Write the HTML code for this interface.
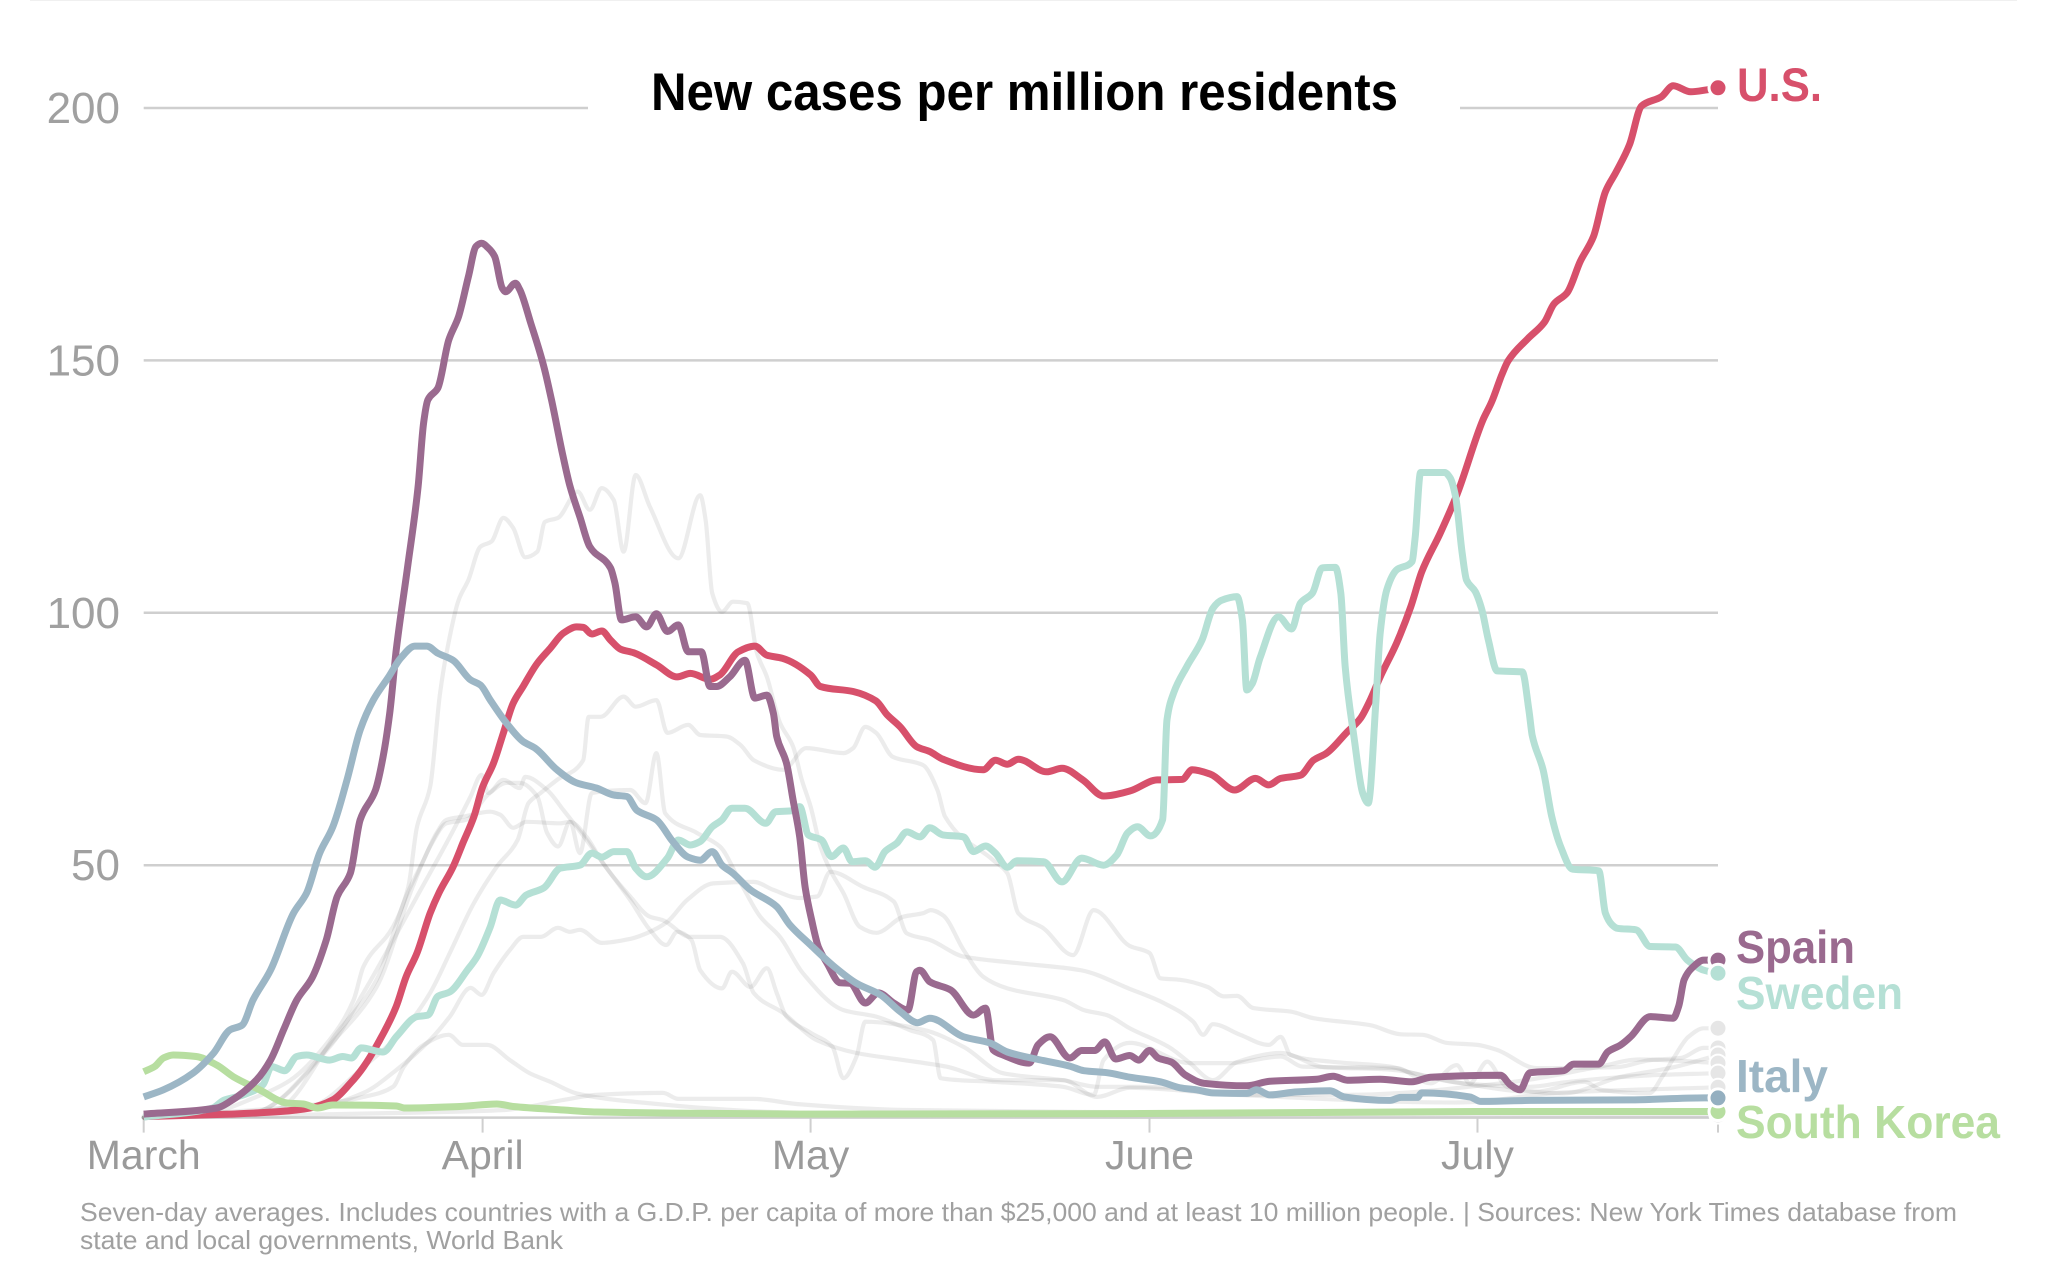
<!DOCTYPE html>
<html lang="en">
<head>
<meta charset="utf-8">
<title>New cases per million residents</title>
<style>
  html, body { margin: 0; padding: 0; background: #fff; }
  svg { display: block; }
  text { font-family: "Liberation Sans", sans-serif; }
</style>
</head>
<body>
<svg id="chart" xmlns="http://www.w3.org/2000/svg" width="2048" height="1280" viewBox="0 0 2048 1280">
  <rect x="0" y="0" width="2048" height="1280" fill="#ffffff"/>
  <rect x="30" y="0" width="1987" height="1" fill="#f0f0f0"/>
  <g id="grid"></g>
  <rect x="588" y="100" width="872" height="16" fill="#ffffff"/>
  <text x="651" y="110" font-size="53" font-weight="700" fill="#000000" textLength="747" lengthAdjust="spacingAndGlyphs">New cases per million residents</text>
  <g id="xaxis"></g>
  <g id="yaxis"></g>
  <g id="lines"></g>
  <g id="dots"></g>
  <text x="1737" y="101" font-size="47" font-weight="700" fill="#d7506b" textLength="85" lengthAdjust="spacingAndGlyphs">U.S.</text>
  <text x="1736" y="963" font-size="46" font-weight="700" fill="#9a6a8f" textLength="119" lengthAdjust="spacingAndGlyphs">Spain</text>
  <text x="1736" y="1009" font-size="46" font-weight="700" fill="#b5e0d5" textLength="167" lengthAdjust="spacingAndGlyphs">Sweden</text>
  <text x="1736" y="1092" font-size="46" font-weight="700" fill="#9cb6c5" textLength="92" lengthAdjust="spacingAndGlyphs">Italy</text>
  <text x="1736" y="1138" font-size="46" font-weight="700" fill="#b7dea0" textLength="264" lengthAdjust="spacingAndGlyphs">South Korea</text>
  <text x="80" y="1221" font-size="26" fill="#a0a0a0" textLength="1877" lengthAdjust="spacingAndGlyphs">Seven-day averages. Includes countries with a G.D.P. per capita of more than $25,000 and at least 10 million people. | Sources: New York Times database from</text>
  <text x="80" y="1249" font-size="26" fill="#a0a0a0" textLength="483" lengthAdjust="spacingAndGlyphs">state and local governments, World Bank</text>
</svg>
<script>
const xTickDays = [0, 31, 61, 92, 122, 144];
const xTickLabels = ['March', 'April', 'May', 'June', 'July', ''];
const yTickValues = [0, 50, 100, 150, 200];
const yTickLabels = ['', '50', '100', '150', '200'];

const usDays = [0,7.9,12.5,15.2,17.3,18.9,20.1,21.6,23.1,24,25,26.2,27,28.3,29.2,30.2,31,32,32.9,33.8,34.7,36,37.2,38.4,39.6,40.2,41,41.9,42.7,43.6,44.8,46.9,48.8,50,51.8,52.7,54.4,55.9,57,58.4,61,61.9,64.9,67,68,69.2,70.7,71.9,73.1,76.8,77.9,79,80,82.6,84,85.9,87.8,90.2,92.7,95,95.9,97.6,99.8,101.7,102.9,104,105.8,107,108.2,110,111.3,112.1,113.1,114.6,115.9,116.9,118.6,120.1,122.5,123.3,124.2,124.8,126.6,128.1,129,130.2,131.4,132.6,133.7,134.7,135.9,137,138.8,139.9,141.5,143,144];
const usValues = [0.2,0.7,1.2,1.9,3.5,6.8,10,15.4,22,27.9,32.6,40.5,44.5,49.7,54.4,59.6,65.5,70.2,76.2,82.1,85.4,90,93,96,97.2,97.1,95.8,96.4,94.6,92.8,92.1,89.7,87.3,88,86.8,87.7,92.3,93.4,91.6,91,87.7,85.4,84.4,82.5,79.8,77.4,73.5,72.5,71,68.9,70.8,70,71,68.5,69.2,66.9,63.7,64.7,66.9,67,68.9,68,64.9,67.2,65.9,67.2,67.8,70.8,72.2,76.2,79.1,82.3,87.3,94,101.2,108.1,115.8,123.3,138.2,141.8,147,149.9,154.3,157.5,161.2,163.4,169.6,174.5,183.4,187.4,192.7,200.4,202.2,204.4,203.2,203.6,204];

const spainDays = [0,6.7,7.9,10.3,11.6,12.8,14,15.4,16.7,17.7,18.9,19.8,21.2,21.9,22.5,23.1,24.1,25.1,25.6,26,26.9,27.9,28.8,29.7,30.4,30.9,31.5,32.1,32.8,33.1,34,34.4,35.4,36.6,37.3,38.3,39,39.9,40.8,42.7,43.1,43.7,45,46,46.9,47.9,48.9,49.8,51,51.8,52.4,53.6,55,55.9,57,57.6,57.9,58.8,59.4,60,60.5,61.1,61.7,62.5,63.7,64.6,66,67.2,68.6,69.9,70.7,71,71.9,73.8,75.9,77,77.7,78.6,81,81.8,82.9,84.7,85.8,87,87.9,88.9,90.2,91,92,92.8,94,95.3,97,100.9,103,107.3,108.8,110.1,113.1,116,117.7,124.1,125,125.9,126.8,129.9,130.8,133.1,133.9,135.1,136,137.8,139.9,140.4,140.9,141.6,142.7,144];
const spainValues = [0.7,1.9,3.2,7.4,11.4,17.4,23.3,27.7,35.2,43.8,48.4,59,64.9,71.5,80.1,92.6,108.5,125,137.6,142.2,144.5,154,158.7,166.6,172.6,173.2,172.3,170.6,164.3,163.6,165.3,164,157.4,148.8,142.2,131.6,125,119,113.1,108.9,105.9,98.6,99.2,97.2,99.8,96.3,97.6,92.3,92.3,85.4,85.4,87.3,90.6,83.1,83.7,80.1,75.5,70.2,62.9,55.6,45.7,39.1,33.9,30.6,26.7,26.6,22.7,24.7,22.7,21.3,28.9,29.2,26.9,25.3,20.3,21.7,13.4,12.4,10.8,14.4,16,11.8,13.3,13.3,15,11.6,12.3,11.4,13.3,11.8,11,8.4,6.8,6.3,7.2,7.6,8.2,7.4,7.6,7.1,8,8.4,6.5,5.5,8.9,9.3,10.6,10.6,13,14.4,16,20,19.7,22,27.3,29.6,31.2,31.2];

const italyDays = [0,1.8,4.5,6.4,7.9,9,10,11.6,13.7,14.9,16.1,17.3,18.6,19.8,21,22.4,23.5,24.8,25.9,26.9,28.3,29.9,30.8,31.7,33.2,34.7,35.8,37.8,39.6,41.4,43,44.2,45.1,46.9,48.4,49.8,50.9,52,52.9,53.9,55.5,57.9,59.1,61,63,65.2,67.4,69.2,70.8,71.9,75,77.4,79,82.3,84.7,86,88.1,90.2,93,94.8,96.3,97.8,100.9,101.8,103,105.5,108.5,109.8,114,115,116.5,116.9,121.3,122.3,126.8,136,142.7,144];
const italyValues = [4.1,5.5,8.8,12.8,17.4,18.3,23.3,29.2,40.5,44.5,52.4,57.6,66.9,76.8,82.7,87.3,91,93.4,93.4,92,90.6,86.7,85.7,82.7,78.1,74.5,73.2,68.9,66.3,65.3,63.9,63.6,60.9,59,54.7,51.6,51,52.7,50,48.4,45.1,41.8,38.2,34.2,30.2,26.6,24.3,21,18.8,19.7,16,14.8,13,11.3,10.2,9.3,8.9,8,7.1,5.9,5.5,4.9,4.8,5.5,4.5,5.1,5.3,4.1,3.4,4,4,4.9,4.1,3.2,3.4,3.5,3.9,3.9];

const swedenDays = [0,6.3,7.3,9.1,10.9,11.7,12.9,14,14.9,17,18.2,19,19.9,21.9,23.1,25,26,26.9,28,29.6,30.5,31.7,32.6,34,35,36.6,38.1,39.9,41,41.9,43,44.2,45,46,47.9,48.9,50,50.9,52,52.9,53.8,55,56.9,57.8,59.4,60,60.8,62,62.9,64,64.8,66,66.9,67.8,68.9,69.8,71,71.9,73.1,75,75.9,77,77.9,79,79.9,82.3,84,85.8,87.8,89,90,90.9,92.1,93.2,93.6,94.2,95.4,96.8,97.8,98.6,100,100.5,100.9,101.4,102.1,103.8,105,105.8,106.9,107.8,109,109.5,109.9,110.7,111.5,112,112.7,113.1,113.7,114.6,116,116.3,116.8,119,119.5,120,120.6,121,121.8,122.4,123,123.8,126.1,126.7,127,128,128.8,129.6,130.7,133.1,133.7,134.3,134.8,136.5,137.8,140.1,141.2,142.7,144];
const swedenValues = [0.1,1.9,3.4,4.5,6.5,10.1,9.3,12.1,12.4,11.4,12.1,11.8,13.8,13,16,20,20.3,24,24.9,29.2,31.9,37.8,43.1,42.1,44.1,45.5,49.4,50,52.4,51.6,52.7,52.7,49.4,47.7,51.4,55,54,54.7,57.6,59,61.3,61.3,58.3,60.6,60.8,61.6,56,55,51.7,53.4,50.7,50.9,49.6,52.7,54.4,56.6,55.6,57.4,56,55.6,52.7,53.8,52.4,49.6,50.9,50.7,46.7,51.4,50,52,56.4,57.6,55.8,59,78.8,84.1,89.3,94.6,100.9,102.5,103.2,98.6,84.7,86,91,99.2,96.8,101.9,103.9,108.9,109,103.9,89.3,75.5,64.3,62.3,82.1,96,104.5,108.5,110.1,115,127.8,127.8,126.7,123,111.8,106.5,104.2,100.6,94.6,88.5,88.3,80.7,75.8,68.9,59.6,53.7,49.2,48.9,40.5,38.2,37.5,37.2,33.9,33.8,31.2,29.2,28.6];

const koreaDays = [0,1,1.8,2.7,4.8,6.7,8.2,10.6,13.1,14.6,15.9,17.3,23.1,23.9,28.9,32.3,33.8,38.4,41.4,44.5,60,90,122,144];
const koreaValues = [9.1,10.1,11.8,12.4,12.1,10.4,8.1,5.5,2.9,2.7,1.9,2.5,2.3,1.9,2.2,2.7,2.2,1.5,1.1,1,0.7,0.8,1.2,1.2];

const greyADays = [0,6,10.3,13.4,17,19.2,20.1,22.8,24.2,25,26.2,27.1,27.7,28.8,29.7,30.8,31.8,32.9,33.8,34.9,36,36.7,37.9,39.7,40.8,41.9,43,43.9,45,46.3,48.9,50.9,51.4,52,52.9,53.9,55.2,56.1,57,58.2,59.4,60.2,61,61.9,62.8,64,65.5,67,69.5,71.3,72,73.1,75,76.8,79,84.1,86,88.1,90.2,93.9,95.7,97.8,100,104,108,114,120,127.2,131.8,133.3,137.7,138.9,140,141.3,142.7,144];
const greyAValues = [0.3,1,4.1,7.4,15.4,23.3,29.9,37.8,45.7,57.6,65.5,84,92,102.5,106.5,113.1,114.1,118.8,116.8,111,112.1,118,118.8,124,120.4,124.7,122.3,112.1,127.3,121,110.8,123.3,118.4,103.9,100.2,102.2,101.9,92,87.3,78.2,73.5,66.9,61.6,53.7,49,44.5,37.8,36.6,39.8,40.5,41.1,40.1,33.2,27.9,25.6,23.3,21.3,20.3,17.7,13.8,10.8,7.4,11,12.8,10,9.5,7,5.1,7.1,5.5,4.8,8.1,12,16,17.7,17.7];

const greyBDays = [0,15,20.1,24,26.2,28,30.2,32.3,34.2,35.2,36.3,37.8,40.2,40.7,41.8,43.9,45,46.9,47.9,49.8,50.9,53.3,54.6,55.8,58.5,60.6,64,64.9,66,67,68.5,71.3,72.6,73.3,77.7,79,80,82.3,85,86.9,90.2,92,93,94.8,97.3,98.8,100,101.5,104.9,107,112.2,115,117,119.2,122,123.8,127.4,134.8,137.8,140.6,142.7,144];
const greyBValues = [0,2,10,18,24.7,32.6,42.5,49.7,55,62.3,64.3,66.9,70.8,79.4,79.4,83.4,81.4,82.7,76.2,77.8,75.8,75.5,73.8,70.8,68.9,73.2,72.2,73.2,77.4,76.2,71.5,69.8,64.9,59.6,51,48.4,40.5,37.5,32.2,41.1,34,32.6,27.6,27.3,25.9,24,24.1,21.7,21,19.7,18.3,16.5,16.4,14.8,14.4,13.4,9.8,10,11.4,11.8,13.8,13.8];

const greyCDays = [0,15.5,20.1,23.1,26.2,28,29.9,30.9,32,33.5,34.7,36.3,37.9,39,39.9,41.9,44.5,46,47.9,49.7,52.1,55.8,57.6,60,61.6,62.8,65.8,68.6,69.8,71.9,75,79.9,85.7,90.2,93.3,96,96.9,97.8,100.3,102.9,104,104.9,108.5,114,116.1,120.7,126.8,130,135,138,144];
const greyCValues = [0,1.9,4.9,9.4,15.4,20,25.7,24.3,28.6,33.2,35.8,35.8,37.6,36.8,37.2,34.6,35.4,36.5,38.8,43.1,46.4,46.7,45.1,43.5,43.8,48.7,45.7,42.8,36.5,35.2,31.9,30.6,29.2,25.5,22.7,19,16.4,18.5,16.4,14.4,16,12.4,11.1,10.1,8.8,6.8,6.1,7,8,8.4,8.8];

const greyFDays = [0,10,17.7,21.3,24.6,26.2,27.7,29.5,31.5,33.2,34.4,36,36.9,37.9,39,39.9,41,44.5,45.9,46.9,47.7,50.6,52.7,54.6,56.4,58.2,60.3,64,67,70,72.2,72.9,77.7,84.1,86.9,87.8,90.2,95.7,99.4,104,106,114.6,117.7,120.1,121.3,122.9,124.7,129.9,135,140,144];
const greyFValues = [0,1,16,25.9,45.7,53.7,58.3,59,64,66.3,66.3,63.6,56.4,53.7,58.6,52.4,64.3,64.9,62.3,72.2,60.3,56.4,53.7,46.5,39.8,35.8,28.6,21.3,20,17.4,15.4,7.8,7.1,6.1,4.5,11.4,14.8,10.8,10.8,12.1,10.1,9.8,6.8,10.4,6.8,11.1,6.1,4.8,8,10,12.4];

const greyGDays = [0,10,17,20.1,22.5,25,28,29.9,30.9,31.5,32.9,34.4,34.9,36.9,38.4,40.5,42.7,44.5,46.3,47.8,48.8,50.1,50.9,52.9,53.8,55.5,57,57.9,58.8,61,63,64,65.2,66,71.3,75,78.6,84.1,87.2,90.2,94.8,99.4,110,125,133,136.8,140,144];
const greyGValues = [0,1,14,24.7,33.9,43.8,55.6,63.6,67.9,64.3,66.9,65.3,67.5,64.9,60.9,55,48.4,43.1,37.2,34.2,36.8,35.2,29.2,25.6,28.9,25.9,29.6,24.7,20,16.8,14,7.8,12.1,19,17.4,14,8.8,7.4,6.1,6.1,5.9,4.5,4.5,7,10,11.5,11.3,10.8];

const greyHDays = [0,12,17.7,21.3,24,25.6,26.8,27.7,29.2,31.7,32.6,33.8,35,38.1,39,40.5,42,44.5,46.3,47.5,50,52.7,54.8,55.8,58.5,61.6,65.2,69.5,73.4,78,84.1,87.2,90.2,100,120,130,144];
const greyHValues = [0,1.5,16.8,27.3,43.8,51,56.4,59,59.6,60.6,60,57.4,58.6,58.3,58.6,55.6,50.4,43.8,39.8,39.1,35.8,35.8,30.6,24.7,20.7,15.3,12.8,11.4,10.1,7.4,7.4,4.1,5.9,4.5,3,5,6];

const greyKDays = [0,17,20.1,22.8,23.8,25.6,27.9,29.2,31.4,33.5,35.3,37.2,39.6,44.5,60,90,144];
const greyKValues = [0,2.9,4.1,6.1,10.1,14.4,16.4,14.4,14.4,11.4,8.8,7.1,4.8,3.2,1,0.7,0.5];

const greyLDays = [0,25,33,38.4,41.4,47.5,48.9,55.8,59.7,69.8,100,144];
const greyLValues = [0,1,1.5,3.5,4.5,4.9,3.7,3.7,2.7,1.5,1,1];

const greySeries = [
  { key: 'a', days: greyADays, values: greyAValues },
  { key: 'b', days: greyBDays, values: greyBValues },
  { key: 'f', days: greyFDays, values: greyFValues },
  { key: 'g', days: greyGDays, values: greyGValues },
  { key: 'c', days: greyCDays, values: greyCValues },
  { key: 'h', days: greyHDays, values: greyHValues },
  { key: 'k', days: greyKDays, values: greyKValues },
  { key: 'l', days: greyLDays, values: greyLValues }
];
const mainLineSeries = [
  { key: 'us', days: usDays, values: usValues, color: '#d7506b' },
  { key: 'sweden', days: swedenDays, values: swedenValues, color: '#b5e0d5' },
  { key: 'south-korea', days: koreaDays, values: koreaValues, color: '#b7dea0' },
  { key: 'spain', days: spainDays, values: spainValues, color: '#9a6a8f' },
  { key: 'italy', days: italyDays, values: italyValues, color: '#9cb6c5' }
];
const mainDotSeries = [
  { key: 'us', days: usDays, values: usValues, color: '#d7506b' },
  { key: 'spain', days: spainDays, values: spainValues, color: '#9a6a8f' },
  { key: 'sweden', days: swedenDays, values: swedenValues, color: '#b5e0d5' },
  { key: 'south-korea', days: koreaDays, values: koreaValues, color: '#b7dea0' },
  { key: 'italy', days: italyDays, values: italyValues, color: '#94afc0' }
];

const NS = 'http://www.w3.org/2000/svg';
const plotLeft = 143.7, plotRight = 1718, plotBottom = 1117.6, pxPerUnit = 5.048, dayMax = 144;
function xScale(day) { return plotLeft + day * (plotRight - plotLeft) / dayMax; }
function yScale(value) { return plotBottom - value * pxPerUnit; }
function make(tag, attrs, parent) {
  const el = document.createElementNS(NS, tag);
  for (const k in attrs) el.setAttribute(k, attrs[k]);
  parent.appendChild(el);
  return el;
}
/* Monotone cubic path so peaks stay where they were read, without overshoot. */
function pathFor(days, values) {
  const xs = days.map(xScale), ys = values.map(yScale), n = xs.length;
  const secants = [], tangents = [];
  for (let i = 0; i < n - 1; i++) secants.push((ys[i + 1] - ys[i]) / (xs[i + 1] - xs[i]));
  tangents.push(secants[0]);
  for (let i = 1; i < n - 1; i++) {
    const a = secants[i - 1], b = secants[i];
    if (a * b <= 0) { tangents.push(0); continue; }
    const h0 = xs[i] - xs[i - 1], h1 = xs[i + 1] - xs[i];
    tangents.push(3 * (h0 + h1) / ((2 * h1 + h0) / a + (h1 + 2 * h0) / b));
  }
  tangents.push(secants[n - 2]);
  let d = 'M' + xs[0].toFixed(1) + ' ' + ys[0].toFixed(1);
  for (let i = 0; i < n - 1; i++) {
    const h = (xs[i + 1] - xs[i]) / 3;
    d += 'C' + (xs[i] + h).toFixed(1) + ' ' + (ys[i] + tangents[i] * h).toFixed(1) + ' ' +
         (xs[i + 1] - h).toFixed(1) + ' ' + (ys[i + 1] - tangents[i + 1] * h).toFixed(1) + ' ' +
         xs[i + 1].toFixed(1) + ' ' + ys[i + 1].toFixed(1);
  }
  return d;
}

const gridG = document.getElementById('grid');
const xG = document.getElementById('xaxis');
const yG = document.getElementById('yaxis');
const linesG = document.getElementById('lines');
const dotsG = document.getElementById('dots');

yTickValues.forEach(function (v, i) {
  const line = make('line', { x1: plotLeft, x2: plotRight, y1: yScale(v), y2: yScale(v), stroke: '#cfcfcf', 'stroke-width': 2.5 }, gridG);
  
  
  if (yTickLabels[i]) {
    const label = make('text', { x: 120, y: yScale(v) + 15, 'text-anchor': 'end', 'font-size': 44, fill: '#a0a0a0' }, yG);
    
    
    label.textContent = yTickLabels[i];
  }
});

xTickDays.forEach(function (d, i) {
  const tick = make('line', { x1: xScale(d), x2: xScale(d), y1: plotBottom, y2: plotBottom + 15, stroke: '#cfcfcf', 'stroke-width': 2 }, xG);
  
  
  if (xTickLabels[i]) {
    const label = make('text', { x: xScale(d), y: 1169, 'text-anchor': 'middle', 'font-size': 41, fill: '#9a9a9a' }, xG);
    
    
    label.textContent = xTickLabels[i];
  }
});

greySeries.forEach(function (s) {
  const p = make('path', { d: pathFor(s.days, s.values), fill: 'none', stroke: '#666666', 'stroke-opacity': 0.12, 'stroke-width': 4.2, 'stroke-linejoin': 'round', 'stroke-linecap': 'round' }, linesG);
  
  
});

mainLineSeries.forEach(function (s) {
  const p = make('path', { d: pathFor(s.days, s.values), fill: 'none', stroke: s.color, 'stroke-width': 7, 'stroke-linejoin': 'round', 'stroke-linecap': 'butt' }, linesG);
  
  
});

greySeries.forEach(function (s) {
  const last = s.values.length - 1;
  const c = make('circle', { cx: xScale(s.days[last]), cy: yScale(s.values[last]), r: 8.5, fill: '#e6e6e6', stroke: '#ffffff', 'stroke-width': 2 }, dotsG);
  
  
});

mainDotSeries.forEach(function (s) {
  const last = s.values.length - 1;
  const c = make('circle', { cx: xScale(s.days[last]), cy: yScale(s.values[last]), r: 9, fill: s.color, stroke: '#ffffff', 'stroke-width': 3 }, dotsG);
  
  
});
</script>
</body>
</html>
